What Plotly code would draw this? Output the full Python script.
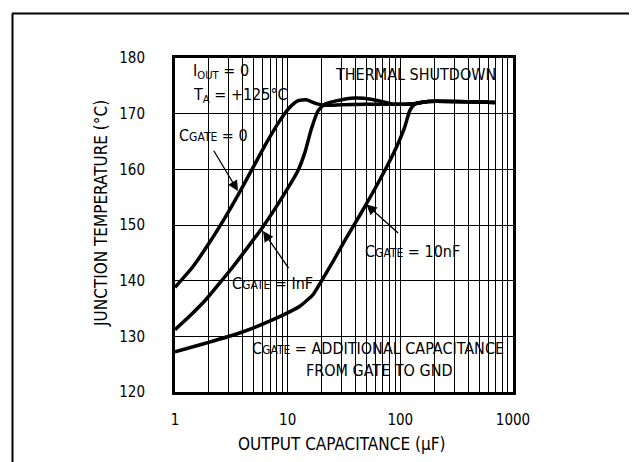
import math
import plotly.graph_objects as go

# ---------------- data ----------------
cg0_x = [1.0, 1.44, 2.03, 2.85, 3.75, 4.92, 6.46, 8.49, 10.4, 12.3, 14.6, 17.9, 21.3, 30, 50, 80, 110, 134, 176, 300, 500, 690]
cg0_y = [138.8, 142.5, 146.9, 151.7, 155.9, 160.3, 164.7, 168.7, 171.1, 172.3, 172.5, 171.8, 171.5, 171.6, 171.7, 171.7, 171.7, 171.8, 172.2, 172.2, 172.1, 172.0]

cg1_x = [1.0, 1.33, 1.9, 2.5, 3.27, 4.5, 6.04, 9.08, 12.3, 14.2, 16.2, 18.6, 21.3, 27.0, 39.3, 55, 71, 87, 110, 134, 176, 300, 500, 690]
cg1_y = [131.2, 133.5, 136.7, 139.6, 142.5, 146.2, 149.7, 155.2, 159.7, 163.0, 167.2, 170.5, 171.7, 172.3, 172.8, 172.6, 172.1, 171.7, 171.7, 171.8, 172.2, 172.2, 172.1, 172.0]

cg10_x = [1.0, 1.9, 3.75, 7.41, 12.8, 16.8, 19.9, 25.2, 32.1, 45.0, 63.3, 89.0, 109, 121, 134, 176, 300, 500, 690]
cg10_y = [127.2, 128.8, 130.6, 133.0, 135.4, 137.5, 139.9, 143.4, 147.2, 152.2, 157.5, 163.3, 167.5, 170.5, 171.7, 172.2, 172.2, 172.1, 172.0]

x_tick_vals = [1, 10, 100, 1000]
x_tick_text = ["1", "10", "100", "1000"]
y_tick_vals = [120, 130, 140, 150, 160, 170, 180]
minor_x = [m * d for d in (1, 10, 100) for m in range(2, 10)]

FONT = "DejaVu Sans Condensed, Liberation Sans Narrow, sans-serif"
FS = 16

# pixel geometry helpers (layout only)
L, R, T, B = 167, 505, 50, 384
W, H = 637, 462
def px(x):
    return (x - L) / (R - L)
def py(y):
    return (B - y) / (B - T)

fig = go.Figure()
for xs, ys in ((cg10_x, cg10_y), (cg1_x, cg1_y), (cg0_x, cg0_y)):
    fig.add_trace(go.Scatter(x=xs, y=ys, mode="lines",
                             line=dict(color="black", width=3.5, shape="spline", smoothing=0.5),
                             showlegend=False, hoverinfo="skip"))

# white boxes behind labels (between gridlines and traces)
boxes = [(167, 48, 278, 97), (322, 48, 490, 80), (168, 115, 243, 140),
         (223, 265, 305, 285), (357, 230, 458, 253), (240, 326, 505, 384)]
shapes = []
for x0, y0, x1, y1 in boxes:
    shapes.append(dict(type="rect", xref="paper", yref="paper", x0=px(x0), x1=px(x1),
                       y0=py(y1), y1=py(y0), fillcolor="white", line=dict(width=0),
                       layer="between"))
# outer page frame
shapes.append(dict(type="line", xref="paper", yref="paper", x0=px(4), x1=px(640), y0=py(5.5), y1=py(5.5),
                   line=dict(color="black", width=2)))
shapes.append(dict(type="line", xref="paper", yref="paper", x0=px(4.5), x1=px(4.5), y0=py(5.5), y1=py(470),
                   line=dict(color="black", width=2)))

def cg(rest):
    return "C<span style='font-size:12px'>GATE</span>" + rest

ann = []
def txt(x, y, text, xanchor="center", align="center", size=FS):
    ann.append(dict(xref="paper", yref="paper", x=px(x), y=py(y), text=text, showarrow=False,
                    xanchor=xanchor, yanchor="middle", align=align,
                    font=dict(family=FONT, size=size, color="black")))

txt(183, 63, "I<sub>OUT</sub> = 0", xanchor="left")
txt(183, 87, "T<sub>A</sub> = +125°C", xanchor="left")
txt(407, 66, "THERMAL SHUTDOWN")
txt(205, 128, cg(" = 0"))
txt(264, 275, cg(" = InF"))
txt(404, 243, cg(" = 10nF"))
txt(370, 340, cg(" = ADDITIONAL CAPACITANCE"))
txt(371, 362, "FROM GATE TO GND")

# arrows: tail (x, y) -> tip (x, y), data coordinates
arrows = [((2.17, 163.6), (3.62, 156.1)),
          ((10.4, 142.0), (6.04, 148.9)),
          ((98.6, 148.3), (49.9, 153.7))]
for (tx, ty), (hx, hy) in arrows:
    ann.append(dict(xref="x", yref="y", x=math.log10(hx), y=hy, axref="x", ayref="y",
                    ax=math.log10(tx), ay=ty, text="", showarrow=True, arrowhead=2,
                    arrowsize=1.6, arrowwidth=1.3, arrowcolor="black", standoff=0))

# axis titles
txt(333, 436, "OUTPUT CAPACITANCE (µF)", size=17)
ann.append(dict(xref="paper", yref="paper", x=px(93), y=py(206), text="JUNCTION TEMPERATURE (°C)",
                showarrow=False, xanchor="center", yanchor="middle", textangle=-90,
                font=dict(family=FONT, size=17, color="black")))

fig.update_layout(
    width=W, height=H,
    margin=dict(l=L, r=W - R, t=T, b=H - B),
    paper_bgcolor="white", plot_bgcolor="white",
    font=dict(family=FONT, size=15, color="black"),
    shapes=shapes, annotations=ann,
)
fig.update_xaxes(type="log", range=[0, 3], tickvals=x_tick_vals, ticktext=x_tick_text,
                 showgrid=True, gridcolor="black", gridwidth=1,
                 ticks="inside", ticklen=8, tickcolor="black", tickwidth=1,
                 showline=True, linecolor="black", linewidth=3, mirror="allticks",
                 ticklabelstandoff=12,
                 minor=dict(tickvals=minor_x, ticks="inside", ticklen=8, tickcolor="black",
                            showgrid=True, gridcolor="black", gridwidth=1),
                 zeroline=False)
fig.update_yaxes(range=[120, 180], tickvals=y_tick_vals,
                 showgrid=True, gridcolor="black", gridwidth=1,
                 ticks="inside", ticklen=8, tickcolor="black",
                 showline=True, linecolor="black", linewidth=3, mirror="allticks",
                 ticklabelstandoff=24, zeroline=False)

fig.write_html("out.html")
